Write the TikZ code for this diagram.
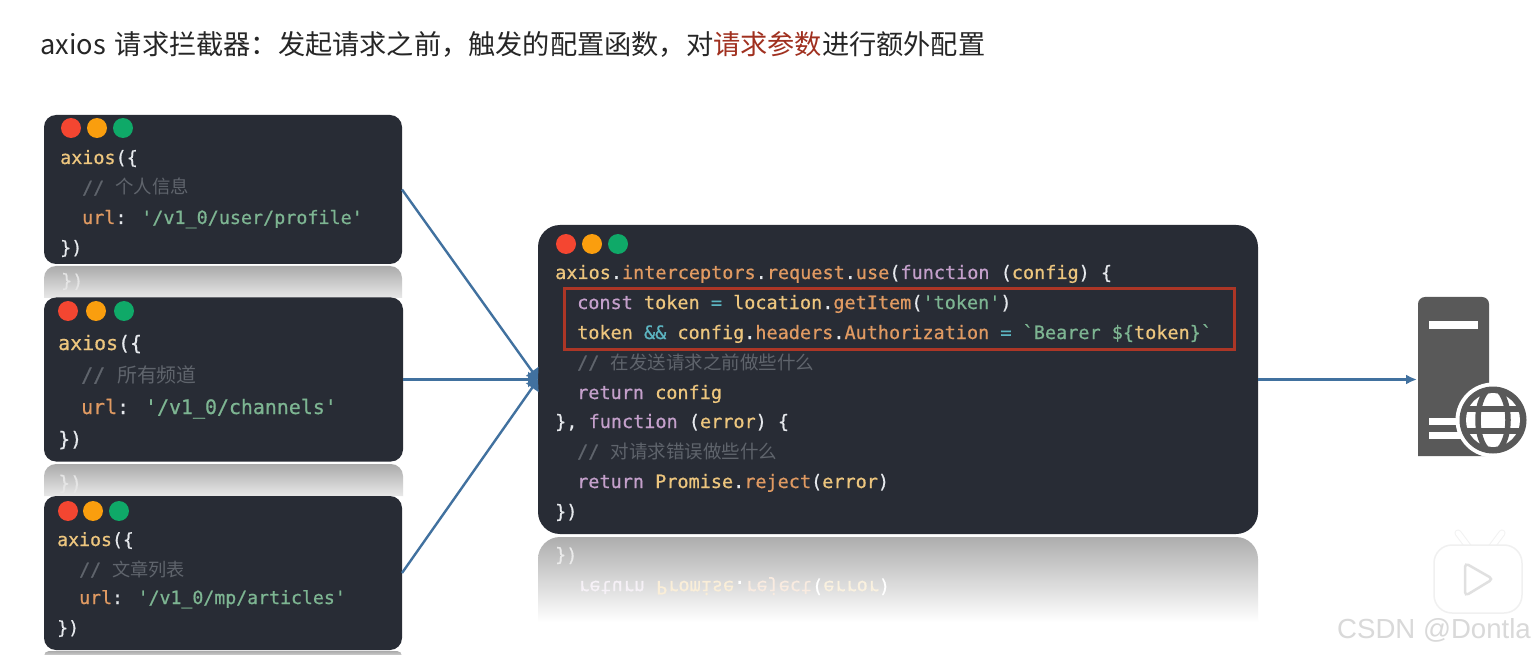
\documentclass[tikz,border=0pt]{standalone}
\usepackage{fontspec}
\usepackage{graphicx}
\usetikzlibrary{arrows.meta}
\setmainfont{Liberation Sans}
\newfontfamily\cjkfont{Noto Sans CJK SC}
\newfontfamily\monofam[RawFeature={embolden=0.7}]{DejaVu Sans Mono}
\definecolor{cardbg}{HTML}{282C35}
\definecolor{cw}{HTML}{E6E9ED}
\definecolor{cy}{HTML}{EDC67E}
\definecolor{co}{HTML}{E09A62}
\definecolor{cg}{HTML}{7DB592}
\definecolor{cp}{HTML}{C4A0CB}
\definecolor{ct}{HTML}{5CB5C2}
\definecolor{cc}{HTML}{5F646C}
\definecolor{linkblue}{HTML}{41719F}
\definecolor{boxred}{HTML}{AC3626}
\definecolor{titlered}{HTML}{A0301F}
\definecolor{srv}{HTML}{595959}
\newcommand\W[1]{\textcolor{cw}{#1}}
\newcommand\Y[1]{\textcolor{cy}{#1}}
\newcommand\Or[1]{\textcolor{co}{#1}}
\newcommand\G[1]{\textcolor{cg}{#1}}
\newcommand\Pu[1]{\textcolor{cp}{#1}}
\newcommand\Te[1]{\textcolor{ct}{#1}}
\newcommand\Cm[1]{\textcolor{cc}{#1}}
\newcommand\Zh[1]{{\cjkfont #1}}
\tikzset{
  card/.style={draw=none,fill=cardbg,rounded corners=12pt,inner sep=0pt,outer sep=0pt},
  codeM/.style={anchor=base west,inner sep=0pt,font=\monofam\fontsize{18.5}{20}\selectfont},
  codeA/.style={anchor=base west,inner sep=0pt,font=\monofam\fontsize{18.4}{20}\selectfont},
  codeB/.style={anchor=base west,inner sep=0pt,font=\monofam\fontsize{19.9}{20}\selectfont},
  codeC/.style={anchor=base west,inner sep=0pt,font=\monofam\fontsize{18.2}{20}\selectfont},
  dotR/.style={circle,fill=#1,minimum size=20pt,inner sep=0pt},
  link/.style={linkblue,line width=2.4pt,-{Triangle[length=10pt,width=15pt]}},
  linkout/.style={linkblue,line width=2.4pt,-{Latex[length=11pt,width=10pt]}},
}
\definecolor{dr}{HTML}{F44631}
\definecolor{da}{HTML}{FA9E0E}
\definecolor{dg}{HTML}{0FA968}
\begin{document}
\begin{tikzpicture}[x=1pt,y=-1pt]
\useasboundingbox (0,0) rectangle (1535,655);
\fill[white] (0,0) rectangle (1535,655);

% title
\node[anchor=base west,inner sep=0pt,text=black!85,font=\cjkfont\fontsize{27.2}{30}\selectfont] (title) at (40,55)
  {axios\hspace{3pt} 请求拦截器：发起请求之前，触发的配置函数，对\textcolor{titlered}{请求参数}进行额外配置};

% reflections
\shade[top color=black!33,bottom color=black!9] (44,298) [rounded corners=12pt] -- (44,266) -- (402,266) [sharp corners] -- (402,298) -- cycle;
\shade[top color=black!33,bottom color=black!9] (44,496) [rounded corners=12pt] -- (44,464) -- (403,464) [sharp corners] -- (403,496) -- cycle;
\shade[top color=black!33,bottom color=black!20] (44,655) [rounded corners=5pt] -- (44,651) -- (402,651) [sharp corners] -- (402,655) -- cycle;
\shade[top color=black!32,bottom color=white] (538,622) [rounded corners=22pt] -- (538,537) -- (1258,537) [sharp corners] -- (1258,622) -- cycle;
\node[codeA,text=white!90!black] (r1) at (61,276) {\scalebox{1}[-1]{\})}};
\node[codeB,text=white!90!black] (r2) at (58,478) {\scalebox{1}[-1]{\})}};
\node[codeM,text=white!92!black] (r3) at (555,550) {\scalebox{1}[-1]{\})}};
\node[codeM] (r4) at (578,581) {\scalebox{1}[-1]{\textcolor{cp!15!white}{return} \textcolor{cy!30!white}{Promise}\textcolor{white}{.}\textcolor{co!20!white}{reject}\textcolor{white}{(}\textcolor{cy!25!white}{error}\textcolor{white}{)}}};

% cards
\node[card,minimum width=358pt,minimum height=149pt] (c1) at (223,189.5) {};
\node[card,minimum width=359pt,minimum height=164pt] (c2) at (223.5,379.5) {};
\node[card,minimum width=358pt,minimum height=154pt] (c3) at (223,573) {};
\node[card,rounded corners=22pt,minimum width=720pt,minimum height=309pt] (m) at (898,379.5) {};

% window dots
\node[dotR=dr] (c1a) at (71,128) {};
\node[dotR=da] (c1b) at (97,128) {};
\node[dotR=dg] (c1c) at (123,128) {};
\node[dotR=dr] (c2a) at (68,311) {};
\node[dotR=da] (c2b) at (96,311) {};
\node[dotR=dg] (c2c) at (124,311) {};
\node[dotR=dr] (c3a) at (68,511) {};
\node[dotR=da] (c3b) at (93,511) {};
\node[dotR=dg] (c3c) at (119,511) {};
\node[dotR=dr] (ma) at (566,244) {};
\node[dotR=da] (mb) at (592,244) {};
\node[dotR=dg] (mc) at (618,244) {};

% card 1 text
\node[codeA] (t11) at (60,164) {\Y{axios}\W{(\{}};
\node[codeA] (t12) at (82,194) {\Cm{// \Zh{个人信息}}};
\node[codeA] (t13) at (82,224) {\Or{url}\W{:} \G{'/v1\_0/user/profile'}};
\node[codeA] (t14) at (60,254) {\W{\})}};
% card 2 text
\node[codeB] (t21) at (58,350) {\Y{axios}\W{(\{}};
\node[codeB] (t22) at (81,382) {\Cm{// \Zh{所有频道}}};
\node[codeB] (t23) at (81,414) {\Or{url}\W{:} \G{'/v1\_0/channels'}};
\node[codeB] (t24) at (58,446) {\W{\})}};
% card 3 text
\node[codeC] (t31) at (57,546) {\Y{axios}\W{(\{}};
\node[codeC] (t32) at (79,576) {\Cm{// \Zh{文章列表}}};
\node[codeC] (t33) at (79,604) {\Or{url}\W{:} \G{'/v1\_0/mp/articles'}};
\node[codeC] (t34) at (57,634) {\W{\})}};
% main text
\node[codeM] (m1) at (555,279) {\Y{axios}\W{.}\Or{interceptors}\W{.}\Or{request}\W{.}\Or{use}\W{(}\Pu{function} \W{(}\Y{config}\W{) \{}};
\node[codeM] (m2) at (577,309) {\Pu{const} \Y{token} \Te{=} \Y{location}\W{.}\Or{getItem}\W{(}\G{'token'}\W{)}};
\node[codeM] (m3) at (577,339) {\Y{token} \Te{\&\&} \Y{config}\W{.}\Or{headers}\W{.}\Or{Authorization} \Te{=} \G{`Bearer \$\{}\Y{token}\G{\}`}};
\node[codeM] (m4) at (577,369) {\Cm{// \Zh{在发送请求之前做些什么}}};
\node[codeM] (m5) at (577,399) {\Pu{return} \Y{config}};
\node[codeM] (m6) at (555,428) {\W{\},} \Pu{function} \W{(}\Y{error}\W{) \{}};
\node[codeM] (m7) at (577,458) {\Cm{// \Zh{对请求错误做些什么}}};
\node[codeM] (m8) at (577,488) {\Pu{return} \Y{Promise}\W{.}\Or{reject}\W{(}\Y{error}\W{)}};
\node[codeM] (m9) at (555,518) {\W{\})}};
% highlight box
\node[draw=boxred,line width=3.6pt,fill=none,minimum width=670pt,minimum height=61pt,inner sep=0pt] (hl) at (899.5,319) {};

% server icon
\fill[srv] (1418,456) [rounded corners=7pt] -- (1418,297) -- (1489,297) [sharp corners] -- (1489,456) -- cycle;
\fill[white] (1429,321) rectangle (1478,329);
\fill[white] (1429,418) rectangle (1470,425);
\fill[white] (1429,432) rectangle (1470,439);
\fill[white] (1493,420) circle (37.5);
\fill[srv] (1493,420) circle (33.5);
\fill[white] (1493,420) circle (27);
\begin{scope}
  \clip (1493,420) circle (28);
  \draw[srv,line width=5.5pt] (1493,420) ellipse (15 and 32);
  \draw[srv,line width=5.5pt] (1460,409) -- (1526,409);
  \draw[srv,line width=5.5pt] (1460,431) -- (1526,431);
\end{scope}
\coordinate (srvin) at (1417,379.5);

% connectors
\draw[link] (c1.east) -- (m.west);
\draw[link] (c2.east) -- (m.west);
\draw[link] (c3.east) -- (m.west);
\draw[linkout] (m.east) -- (srvin);

% watermark
\draw[black!5,line width=7pt,line cap=round] (1470,549) -- (1458,533);
\draw[black!5,line width=7pt,line cap=round] (1490,549) -- (1502,533);
\draw[white,line width=5pt,line cap=round] (1470,549) -- (1458,533);
\draw[white,line width=5pt,line cap=round] (1490,549) -- (1502,533);
\draw[black!6,fill=white,line width=1.5pt,rounded corners=18pt] (1434,545) rectangle (1522,613);
\draw[black!12,fill=white,line width=2.5pt,rounded corners=4pt] (1465,563) -- (1493,579) -- (1465,596) -- cycle;
\node[anchor=base west,inner sep=0pt,text=black!15,font=\fontsize{27.6}{30}\selectfont] (wm) at (1337,638) {CSDN @Dontla};
\end{tikzpicture}
\end{document}
